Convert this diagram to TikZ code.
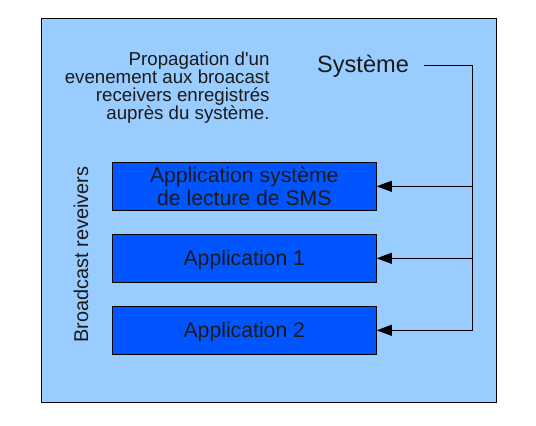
\documentclass[tikz,border=0pt]{standalone}
\usepackage{fontspec}
\setmainfont{Liberation Sans}
\usetikzlibrary{arrows.meta}
\definecolor{Bg}{RGB}{153,204,255}
\definecolor{AppBlue}{RGB}{0,85,255}
\definecolor{Ink}{RGB}{26,26,26}

\begin{document}
\begin{tikzpicture}[x=1pt,y=-1pt,line width=0.9pt,
    app/.style={draw=black, fill=AppBlue, minimum width=264pt, minimum height=48pt,
      inner sep=0pt, text=Ink, align=center, font=\fontsize{21.2}{22.7}\selectfont},
    feed/.style={-{Triangle[length=15pt,width=11pt]}}]
      \useasboundingbox (0,0) rectangle (536,426);
      \draw[fill=Bg] (41,18) rectangle (496.5,402);
      \node[anchor=north east, align=right, inner sep=0pt, text=Ink,
        font=\fontsize{18.7}{18.2}\selectfont] (note) at (270,51)
        {Propagation d\textquotesingle un\\evenement aux broacast\\receivers enregistrés\\auprès du système.};
      \node[anchor=base, inner sep=0pt, text=Ink, font=\fontsize{23.6}{24}\selectfont] (sys) at (363,72) {Système};
      \node[rotate=90, inner sep=0pt, text=Ink, font=\fontsize{19.9}{20}\selectfont] (recv) at (81,254.7) {Broadcast reveivers};
      \node[app] (sms) at (244.3,186.3) {Application système\\de lecture de SMS};
      \node[app, text depth=0pt] (app1) at (244.3,258.3) {Application 1};
      \node[app, text depth=0pt] (app2) at (244.3,330.3) {Application 2};
      % bus from the system to every receiver
      \coordinate (bus) at (472.7,0);
      \draw ([xshift=15pt]sys.east) -- (sys.east -| bus) -- (app2.east -| bus);
      \foreach \n in {sms,app1,app2}
        \draw[feed] (\n.east -| bus) -- (\n.east);
\end{tikzpicture}
\end{document}
